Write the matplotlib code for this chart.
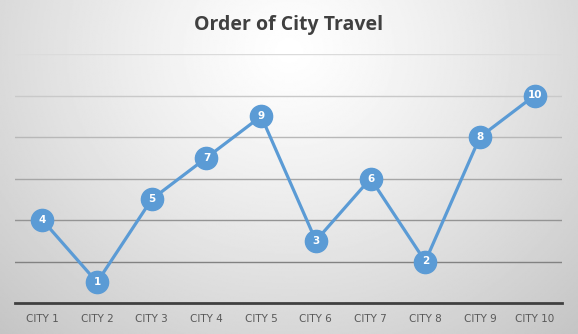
import numpy as np
import matplotlib
matplotlib.use("Agg")
import matplotlib.pyplot as plt

cities = ["CITY 1", "CITY 2", "CITY 3", "CITY 4", "CITY 5",
          "CITY 6", "CITY 7", "CITY 8", "CITY 9", "CITY 10"]
order = [4, 1, 5, 7, 9, 3, 6, 2, 8, 10]
grid_values = [2, 4, 6, 8, 10, 12]

fig = plt.figure(figsize=(5.78, 3.34), dpi=100)

# radial gradient background, white near the top centre
bg = fig.add_axes([0, 0, 1, 1])
gx, gy = np.meshgrid(np.linspace(0, 1, 400), np.linspace(0, 1, 240))
r = np.sqrt(((gx - 0.5) / 0.6) ** 2 + ((gy - 0.15) / 0.95) ** 2)
shade = np.clip(1.0 - 0.18 * r ** 1.2, 0.76, 1.0)
bg.imshow(shade, cmap="gray", vmin=0, vmax=1, aspect="auto",
          extent=[0, 1, 0, 1], origin="upper")
bg.axis("off")

ax = fig.add_axes([15 / 578, 31 / 334, 547 / 578, 249 / 334])
ax.patch.set_alpha(0)

x = np.arange(len(cities))
# gridlines get darker towards the bottom
for g in grid_values:
    c = 0.86 - 0.035 * (12 - g)
    ax.axhline(g, color=(c, c, c), lw=1, zorder=1)

ax.plot(x, order, color="#5B9BD5", lw=2.3, marker="o", markersize=16,
        markerfacecolor="#5B9BD5", markeredgecolor="#5B9BD5", zorder=3)
for xi, v in zip(x, order):
    ax.text(xi, v, str(v), ha="center", va="center", color="white",
            fontsize=7.5, fontweight="bold", zorder=4)

ax.set_xlim(-0.5, len(cities) - 0.5)
ax.set_ylim(0, 12)
ax.set_xticks(x)
ax.set_xticklabels(cities, fontsize=7.5, color="#595959")
ax.tick_params(axis="x", length=0, pad=8)
ax.set_yticks([])
for side in ["top", "right", "left"]:
    ax.spines[side].set_visible(False)
ax.spines["bottom"].set_color("#404040")
ax.spines["bottom"].set_linewidth(2)

fig.text(0.5, 1 - 25 / 334, "Order of City Travel", ha="center", va="center",
         fontsize=14, fontweight="bold", color="#404040", family="Open Sans")

fig.savefig("out.png", dpi=100)
